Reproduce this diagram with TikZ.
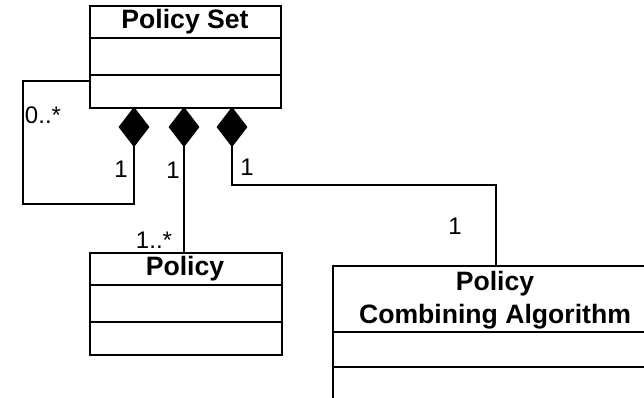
\documentclass[tikz,border=0pt]{standalone}
\usepackage{fontspec}
\setmainfont{Liberation Sans}
\usetikzlibrary{shapes.geometric,calc}
\begin{document}
\begin{tikzpicture}[x=1pt,y=-1pt,
  line width=2pt,
  classbox/.style={draw,rectangle,inner sep=0pt,anchor=north west},
  title/.style={font=\fontsize{26.6}{32.5}\selectfont\bfseries,inner sep=0pt,align=center},
  mult/.style={font=\fontsize{24}{26}\selectfont,inner sep=0pt},
  compo/.style={draw,fill=black,diamond,inner sep=0pt,minimum width=30pt,minimum height=39pt,line width=1pt},
  link/.style={line width=2pt,line cap=rect}]
\useasboundingbox (0,0) rectangle (644,397);
\clip (0,0) rectangle (644,397);

% Policy Set class
\node[classbox,minimum width=191pt,minimum height=102pt] (ps) at (89,5) {};
\draw ($(ps.north west)+(0,33)$) -- ($(ps.north east)+(0,33)$);
\draw ($(ps.north west)+(0,70)$) -- ($(ps.north east)+(0,70)$);
\node[title] (pst) at (185,22) {Policy Set};

% Policy class
\node[classbox,minimum width=192pt,minimum height=102pt] (po) at (89,252) {};
\draw ($(po.north west)+(0,33)$) -- ($(po.north east)+(0,33)$);
\draw ($(po.north west)+(0,70)$) -- ($(po.north east)+(0,70)$);
\node[title] (pot) at (185,269) {Policy};

% Policy Combining Algorithm class
\node[classbox,minimum width=326pt,minimum height=180pt] (pca) at (332,265) {};
\draw ($(pca.north west)+(0,67)$) -- ($(pca.north east)+(0,67)$);
\draw ($(pca.north west)+(0,102)$) -- ($(pca.north east)+(0,102)$);
\node[title] (pcat) at (495,300) {Policy\\Combining Algorithm};

% composition diamonds under Policy Set
\node[compo,anchor=north] (d1) at (134,107) {};
\node[compo,anchor=north] (d2) at (184,107) {};
\node[compo,anchor=north] (d3) at (232,107) {};

% self association of Policy Set
\coordinate (s0) at (89,81);
\draw[link] (s0) -- (23,81) -- (23,204) -- (d1.south |- 0,204) -- (d1.south);

% Policy Set -> Policy
\draw[link] (d2.south) -- (d2.south |- po.north);

% Policy Set -> Policy Combining Algorithm
\draw[link] (d3.south) -- (d3.south |- 0,185) -- (496,185) -- (496,265);

% multiplicities
\node[mult] (m1) at (43,115) {0..*};
\node[mult] (m2) at (121,169) {1};
\node[mult] (m3) at (173,170) {1};
\node[mult] (m4) at (247,167) {1};
\node[mult] (m5) at (154,240) {1..*};
\node[mult] (m6) at (455,226) {1};
\end{tikzpicture}
\end{document}
